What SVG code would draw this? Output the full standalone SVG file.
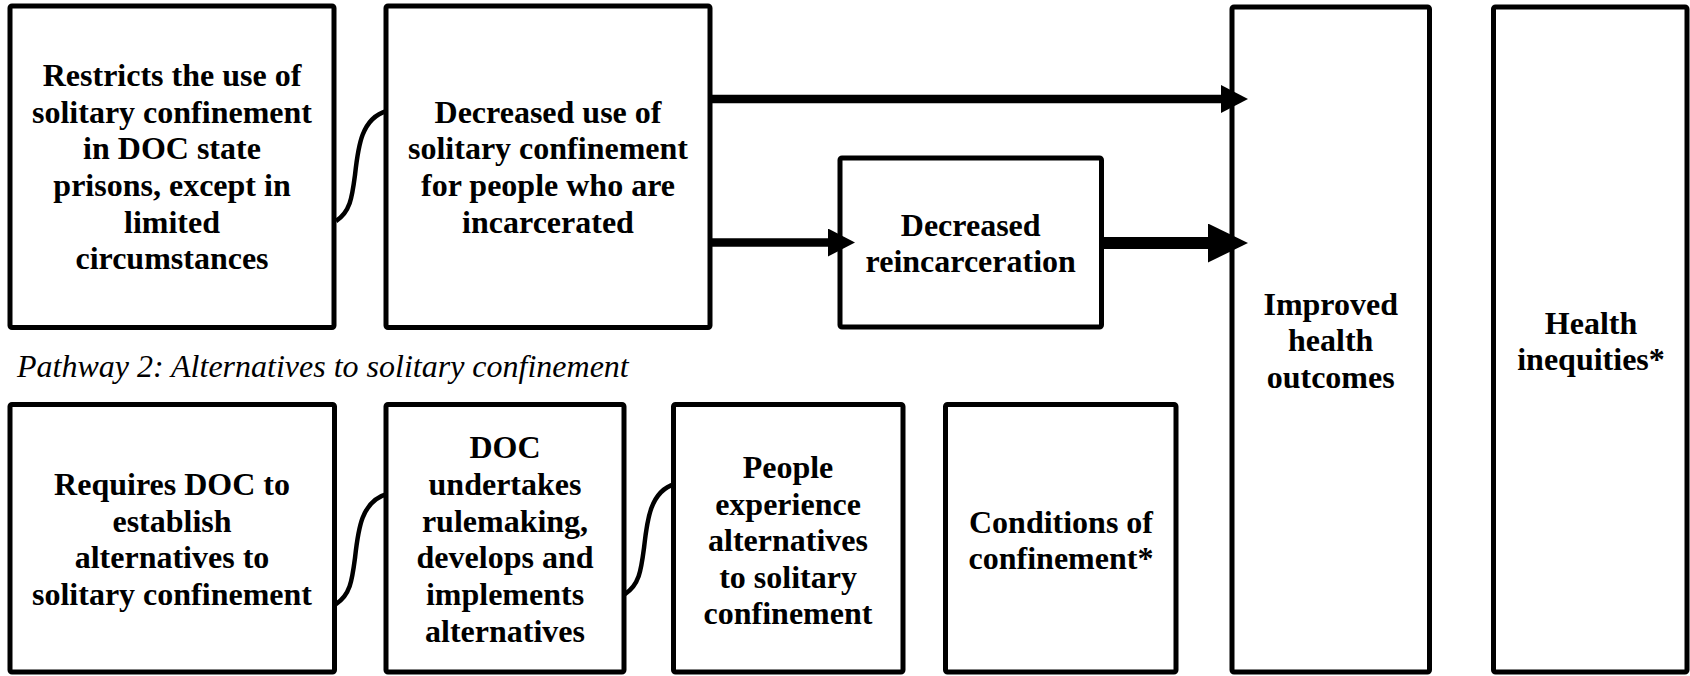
<svg xmlns="http://www.w3.org/2000/svg" width="1690" height="676" viewBox="0 0 1690 676">
<defs>
<marker id="hs" markerUnits="userSpaceOnUse" markerWidth="28" markerHeight="28" refX="0" refY="14" orient="auto" viewBox="0 0 28 28">
<path d="M0,0 L27,14 L0,28 Z" fill="#000"/>
</marker>
<marker id="hl" markerUnits="userSpaceOnUse" markerWidth="40" markerHeight="40" refX="0" refY="19.5" orient="auto" viewBox="0 0 40 40">
<path d="M0,0 L40,19.5 L0,39 Z" fill="#000"/>
</marker>
</defs>
<rect width="1690" height="676" fill="#fff"/>

<g id="nodes" fill="#fff" stroke="#000" stroke-width="5">
<g id="n1">
<rect x="10" y="6" width="324" height="321.5" rx="2"/>
<text font-family="Times New Roman, Liberation Serif, serif" font-size="32" font-weight="bold" text-anchor="middle" fill="#000" stroke="none"><tspan x="172" y="86">Restricts the use of</tspan><tspan x="172" y="122.7">solitary confinement</tspan><tspan x="172" y="159.3">in DOC state</tspan><tspan x="172" y="196">prisons, except in</tspan><tspan x="172" y="232.7">limited</tspan><tspan x="172" y="269.3">circumstances</tspan></text>
</g>
<g id="n2">
<rect x="386" y="6" width="324" height="321.5" rx="2"/>
<text font-family="Times New Roman, Liberation Serif, serif" font-size="32" font-weight="bold" text-anchor="middle" fill="#000" stroke="none"><tspan x="548" y="122.7">Decreased use of</tspan><tspan x="548" y="159.3">solitary confinement</tspan><tspan x="548" y="196">for people who are</tspan><tspan x="548" y="232.7">incarcerated</tspan></text>
</g>
<g id="n3">
<rect x="840" y="158" width="261.5" height="169" rx="2"/>
<text font-family="Times New Roman, Liberation Serif, serif" font-size="32" font-weight="bold" text-anchor="middle" fill="#000" stroke="none"><tspan x="970.7" y="235.7">Decreased</tspan><tspan x="970.7" y="272.3">reincarceration</tspan></text>
</g>
<g id="n4">
<rect x="1232" y="7" width="197.5" height="665" rx="2"/>
<text font-family="Times New Roman, Liberation Serif, serif" font-size="32" font-weight="bold" text-anchor="middle" fill="#000" stroke="none"><tspan x="1330.7" y="314.5">Improved</tspan><tspan x="1330.7" y="351">health</tspan><tspan x="1330.7" y="388">outcomes</tspan></text>
</g>
<g id="n5">
<rect x="1493.5" y="7" width="193.5" height="665" rx="2"/>
<text font-family="Times New Roman, Liberation Serif, serif" font-size="32" font-weight="bold" text-anchor="middle" fill="#000" stroke="none"><tspan x="1591" y="333.5">Health</tspan><tspan x="1591" y="370">inequities*</tspan></text>
</g>
<g id="n6">
<rect x="10" y="404.5" width="324.5" height="267.5" rx="2"/>
<text font-family="Times New Roman, Liberation Serif, serif" font-size="32" font-weight="bold" text-anchor="middle" fill="#000" stroke="none"><tspan x="172" y="495">Requires DOC to</tspan><tspan x="172" y="531.7">establish</tspan><tspan x="172" y="568.3">alternatives to</tspan><tspan x="172" y="605">solitary confinement</tspan></text>
</g>
<g id="n7">
<rect x="386" y="404.5" width="238" height="267.5" rx="2"/>
<text font-family="Times New Roman, Liberation Serif, serif" font-size="32" font-weight="bold" text-anchor="middle" fill="#000" stroke="none"><tspan x="505" y="458.3">DOC</tspan><tspan x="505" y="495">undertakes</tspan><tspan x="505" y="531.7">rulemaking,</tspan><tspan x="505" y="568.3">develops and</tspan><tspan x="505" y="605">implements</tspan><tspan x="505" y="641.7">alternatives</tspan></text>
</g>
<g id="n8">
<rect x="673.5" y="404.5" width="229.5" height="267.5" rx="2"/>
<text font-family="Times New Roman, Liberation Serif, serif" font-size="32" font-weight="bold" text-anchor="middle" fill="#000" stroke="none"><tspan x="788" y="478">People</tspan><tspan x="788" y="514.5">experience</tspan><tspan x="788" y="551">alternatives</tspan><tspan x="788" y="587.5">to solitary</tspan><tspan x="788" y="624">confinement</tspan></text>
</g>
<g id="n9">
<rect x="945.5" y="404.5" width="230.5" height="267.5" rx="2"/>
<text font-family="Times New Roman, Liberation Serif, serif" font-size="32" font-weight="bold" text-anchor="middle" fill="#000" stroke="none"><tspan x="1061" y="532.7">Conditions of</tspan><tspan x="1061" y="569.3">confinement*</tspan></text>
</g>
</g>

<text font-family="Times New Roman, Liberation Serif, serif" font-size="32" font-style="italic" fill="#000" x="17" y="377">Pathway 2: Alternatives to solitary confinement</text>

<g id="connectors" fill="none" stroke="#000">
<path stroke-width="4.5" d="M336,221 C350,212 352,198 355,175 C358,148 361,118 387,111"/>
<path stroke-width="4.5" d="M336,604 C350,595 352,581 355,558 C358,531 361,501 387,494"/>
<path stroke-width="4.5" d="M625,594 C639,585 641,571 644,548 C647,521 650,491 675,484"/>
<path stroke-width="8.5" d="M712,99 L1221,99" marker-end="url(#hs)"/>
<path stroke-width="8.5" d="M712,242.5 L828,242.5" marker-end="url(#hs)"/>
<path stroke-width="12" d="M1104,243 L1208,243" marker-end="url(#hl)"/>
</g>
</svg>
